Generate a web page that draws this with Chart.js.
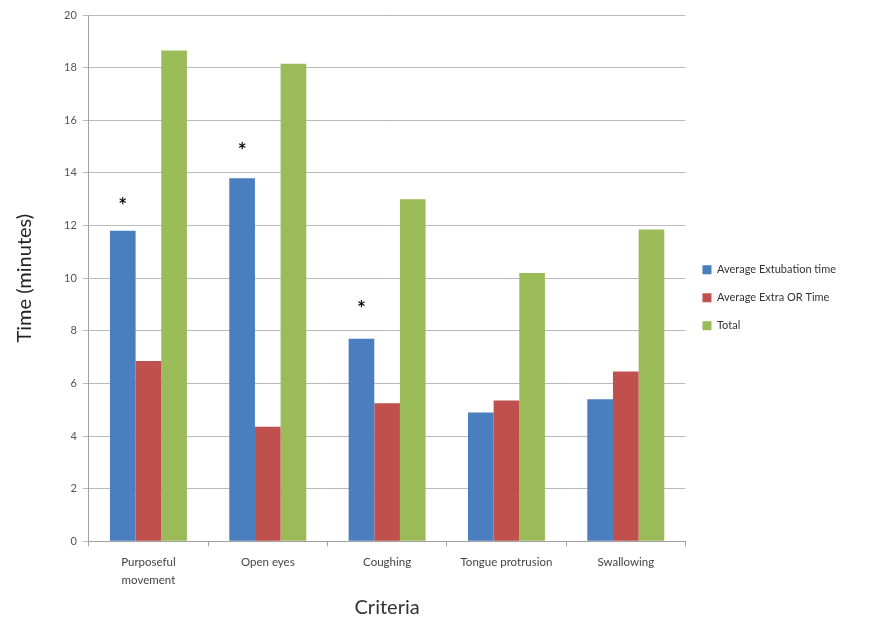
<!DOCTYPE html>
<html>
<head>
<meta charset="utf-8">
<script src="https://cdn.jsdelivr.net/npm/chart.js@4.4.0/dist/chart.umd.min.js"></script>
<style>
  html, body { margin: 0; padding: 0; background: #fff; }
  #wrap { width: 875px; height: 629px; }
</style>
</head>
<body>
<div id="wrap"><canvas id="myChart"></canvas></div>
<script>
// categorias e valores
var criteria = [['Purposeful', 'movement'], 'Open eyes', 'Coughing', 'Tongue protrusion', 'Swallowing'];
var extubation = [11.8, 13.8, 7.7, 4.9, 5.4];
var extraOR = [6.85, 4.35, 5.25, 5.35, 6.45];
var total = [18.65, 18.15, 13.0, 10.2, 11.85];
var stars = [13.0, 15.1, 9.1, null, null];  // altura do asterisco (minutos)
var yTicks = [0, 2, 4, 6, 8, 10, 12, 14, 16, 18, 20];

var fontName = 'Lato, "Open Sans", sans-serif';

// plugin simples para desenhar os asteriscos sobre as barras azuis
var starPlugin = {
    id: 'stars',
    afterDatasetsDraw: function (chart) {
        var ctx = chart.ctx;
        var meta = chart.getDatasetMeta(0);
        var y = chart.scales.y;
        ctx.save();
        ctx.fillStyle = '#111';
        ctx.font = 'bold 21px ' + fontName;
        ctx.textAlign = 'center';
        ctx.textBaseline = 'middle';
        stars.forEach(function (v, i) {
            if (v === null) return;
            var bar = meta.data[i];
            ctx.fillText('*', bar.x, y.getPixelForValue(v) + 7);
        });
        ctx.restore();
    }
};

var config = {
    type: 'bar',
    data: {
        labels: criteria,
        datasets: [{
            label: 'Average Extubation time',
            data: extubation,
            backgroundColor: '#4a7ebf'
        }, {
            label: 'Average Extra OR Time',
            data: extraOR,
            backgroundColor: '#c0504d'
        }, {
            label: 'Total',
            data: total,
            backgroundColor: '#9bbb59'
        }]
    },
    options: {
        responsive: true,
        maintainAspectRatio: false,
        animation: false,
        layout: { padding: { top: 15, left: 6, right: 29, bottom: 9 } },
        datasets: { bar: { barPercentage: 1, categoryPercentage: 0.645 } },
        plugins: {
            tooltip: { enabled: false },
            legend: {
                position: 'right',
                fullSize: false,
                title: {
                    display: true,
                    text: ' ',
                    padding: 13,
                    font: { family: fontName, size: 11 }
                },
                labels: {
                    boxWidth: 9,
                    boxHeight: 9,
                    padding: 17,
                    color: '#333',
                    font: { family: fontName, size: 11 }
                }
            }
        },
        scales: {
            x: {
                grid: {
                    display: true,
                    drawOnChartArea: false,
                    offset: true,
                    tickLength: 5,
                    color: '#a0a0a0'
                },
                border: { color: '#a0a0a0' },
                ticks: {
                    color: '#444',
                    padding: 7,
                    font: { family: fontName, size: 11.5, lineHeight: 1.55 },
                    maxRotation: 0
                },
                title: {
                    display: true,
                    text: 'Criteria',
                    color: '#333',
                    padding: { top: 0, bottom: 0 },
                    font: { family: fontName, size: 20 }
                }
            },
            y: {
                min: 0,
                max: 20,
                afterBuildTicks: function (axis) {
                    axis.ticks = yTicks.map(function (v) { return { value: v }; });
                },
                grid: { color: '#bdb8bd', tickLength: 6 },
                border: { color: '#a0a0a0' },
                ticks: {
                    color: '#555',
                    padding: 6,
                    font: { family: fontName, size: 11 }
                },
                title: {
                    display: true,
                    text: 'Time (minutes)',
                    color: '#222',
                    padding: { top: 7, bottom: 21 },
                    font: { family: fontName, size: 20 }
                }
            }
        }
    },
    plugins: [starPlugin]
};

var ctx = document.getElementById('myChart').getContext('2d');
var chart = new Chart(ctx, config);
</script>
</body>
</html>
